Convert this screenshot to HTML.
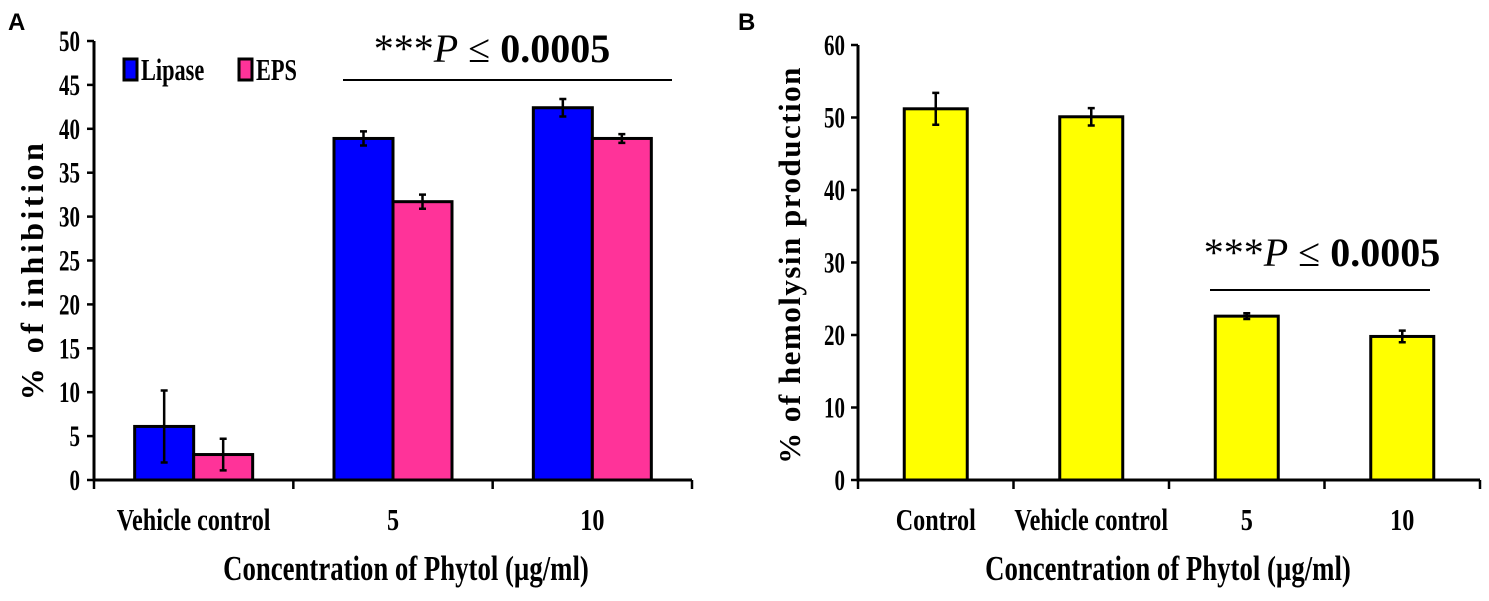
<!DOCTYPE html>
<html><head><meta charset="utf-8"><style>
html,body{margin:0;padding:0;background:#fff;}
svg{display:block;}
text{font-family:"Liberation Serif",serif;font-weight:bold;fill:#000;}
</style></head><body>
<svg id="fig" width="1489" height="601" viewBox="0 0 1489 601">
<text x="8" y="30" style="font-family:'Liberation Sans',sans-serif;font-size:24px">A</text>
<text x="738" y="30" style="font-family:'Liberation Sans',sans-serif;font-size:24px">B</text>
<g id="chartA"></g>
<g id="chartB"></g>
</svg>
<script>
// Panel A data
const aCategories = ["Vehicle control", "5", "10"];
const aLipase = [6.1, 38.9, 42.4];
const aLipaseErr = [4.1, 0.8, 1.0];
const aEPS = [2.9, 31.7, 38.9];
const aEPSErr = [1.8, 0.8, 0.5];
const aTicks = [0, 5, 10, 15, 20, 25, 30, 35, 40, 45, 50];
// Panel B data
const bCategories = ["Control", "Vehicle control", "5", "10"];
const bValues = [51.2, 50.1, 22.6, 19.8];
const bErr = [2.2, 1.2, 0.4, 0.8];
const bTicks = [0, 10, 20, 30, 40, 50, 60];

const NS = "http://www.w3.org/2000/svg";
function mk(parent, tag, attrs, text) {
  const e = document.createElementNS(NS, tag);
  for (const k in attrs) e.setAttribute(k, attrs[k]);
  if (text !== undefined) e.textContent = text;
  parent.appendChild(e);
  return e;
}
function condensed(parent, x, y, size, anchor, str, sx) {
  return mk(parent, "text", {x: x / sx, y: y, "font-size": size, "text-anchor": anchor, transform: "scale(" + sx + ",1)"}, str);
}
function errBar(g, cx, yt, yb) {
  return mk(g, "path", {d: "M" + cx + "," + yt + "V" + yb + "M" + (cx - 3.5) + "," + yt + "h7M" + (cx - 3.5) + "," + yb + "h7", stroke: "#000", "stroke-width": 2.5, fill: "none"});
}

// ---------- Panel A ----------
(function () {
  const g = document.getElementById("chartA");
  const x0 = 94, x1 = 692, yZero = 480, yTop = 41, vmax = 50;
  const y = v => yZero - (v / vmax) * (yZero - yTop);
  const catW = (x1 - x0) / aCategories.length;
  const barW = 59;
  aTicks.forEach(t => {
    const l = mk(g, "line", {x1: x0 - 7, x2: x0, y1: y(t), y2: y(t), stroke: "#000", "stroke-width": 2.5});
    
    
    const tx = condensed(g, 80, y(t) + 10, 30, "end", String(t), 0.7);
    
    
  });
  aCategories.forEach((c, i) => {
    const cx = x0 + catW * (i + 0.5);
    [[aLipase, aLipaseErr, "#0000ff", "bar-lipase"], [aEPS, aEPSErr, "#ff3399", "bar-eps"]].forEach((s, j) => {
      const v = s[0][i], e = s[1][i];
      const bx = cx - barW + j * barW;
      const r = mk(g, "rect", {x: bx, y: y(v), width: barW, height: yZero - y(v), fill: s[2], stroke: "#000", "stroke-width": 3});
      
      
      const el = errBar(g, bx + barW / 2, y(v + e), y(v - e));
      
      
    });
    const lab = condensed(g, cx, 530, 31, "middle", c, 0.78);
    
    
  });
  for (let i = 0; i <= aCategories.length; i++) {
    const tx = x0 + catW * i;
    const l = mk(g, "line", {x1: tx, x2: tx, y1: yZero, y2: yZero + 9, stroke: "#000", "stroke-width": 2.5});
    
    
  }
  const ax = mk(g, "path", {d: "M" + x0 + "," + yTop + "V" + yZero + "H" + x1, stroke: "#000", "stroke-width": 3, fill: "none"});
  
  
  const l1 = mk(g, "rect", {x: 124, y: 59, width: 13, height: 21, fill: "#0000ff", stroke: "#000", "stroke-width": 3});
  
  
  const lt1 = condensed(g, 141, 80, 31, "start", "Lipase", 0.72);
  
  
  const l2 = mk(g, "rect", {x: 239, y: 59, width: 13, height: 21, fill: "#ff3399", stroke: "#000", "stroke-width": 3});
  
  
  const lt2 = condensed(g, 256, 80, 31, "start", "EPS", 0.72);
  
  
  const sl = mk(g, "line", {x1: 343, x2: 672, y1: 80, y2: 80, stroke: "#000", "stroke-width": 2});
  
  
  const st = mk(g, "text", {x: 492, y: 62, "font-size": 40, "text-anchor": "middle"});
  
  
  st.innerHTML = '<tspan style="font-weight:normal">***</tspan><tspan style="font-weight:normal;font-style:italic">P</tspan><tspan style="font-weight:normal"> ≤ </tspan>0.0005';
  const yt = mk(g, "text", {x: 0, y: 0, "font-size": 32, "text-anchor": "middle", transform: "translate(43,270) rotate(-90)", "letter-spacing": "3.5"}, "% of inhibition");
  
  
  const xt = condensed(g, 406, 580, 35, "middle", "Concentration of Phytol (µg/ml)", 0.765);
  
  
})();

// ---------- Panel B ----------
(function () {
  const g = document.getElementById("chartB");
  const x0 = 858, x1 = 1480, yZero = 480, yTop = 45, vmax = 60;
  const y = v => yZero - (v / vmax) * (yZero - yTop);
  const catW = (x1 - x0) / bCategories.length;
  const barW = 63;
  bTicks.forEach(t => {
    const l = mk(g, "line", {x1: x0 - 7, x2: x0, y1: y(t), y2: y(t), stroke: "#000", "stroke-width": 2.5});
    
    
    const tx = condensed(g, 845, y(t) + 10, 30, "end", String(t), 0.7);
    
    
  });
  bCategories.forEach((c, i) => {
    const cx = x0 + catW * (i + 0.5);
    const v = bValues[i], e = bErr[i];
    const r = mk(g, "rect", {x: cx - barW / 2, y: y(v), width: barW, height: yZero - y(v), fill: "#ffff00", stroke: "#000", "stroke-width": 3});
    
    
    const el = errBar(g, cx, y(v + e), y(v - e));
    
    
    const lab = condensed(g, cx, 530, 31, "middle", c, 0.78);
    
    
  });
  for (let i = 0; i <= bCategories.length; i++) {
    const tx = x0 + catW * i;
    const l = mk(g, "line", {x1: tx, x2: tx, y1: yZero, y2: yZero + 9, stroke: "#000", "stroke-width": 2.5});
    
    
  }
  const ax = mk(g, "path", {d: "M" + x0 + "," + yTop + "V" + yZero + "H" + x1, stroke: "#000", "stroke-width": 3, fill: "none"});
  
  
  const sl = mk(g, "line", {x1: 1210, x2: 1430, y1: 290, y2: 290, stroke: "#000", "stroke-width": 2});
  
  
  const st = mk(g, "text", {x: 1322, y: 266, "font-size": 40, "text-anchor": "middle"});
  
  
  st.innerHTML = '<tspan style="font-weight:normal">***</tspan><tspan style="font-weight:normal;font-style:italic">P</tspan><tspan style="font-weight:normal"> ≤ </tspan>0.0005';
  const yt = mk(g, "text", {x: 0, y: 0, "font-size": 31, "text-anchor": "middle", transform: "translate(800,265) rotate(-90)", "letter-spacing": "1.5"}, "% of hemolysin production");
  
  
  const xt = condensed(g, 1168, 580, 35, "middle", "Concentration of Phytol (µg/ml)", 0.765);
  
  
})();
</script>
</body></html>
